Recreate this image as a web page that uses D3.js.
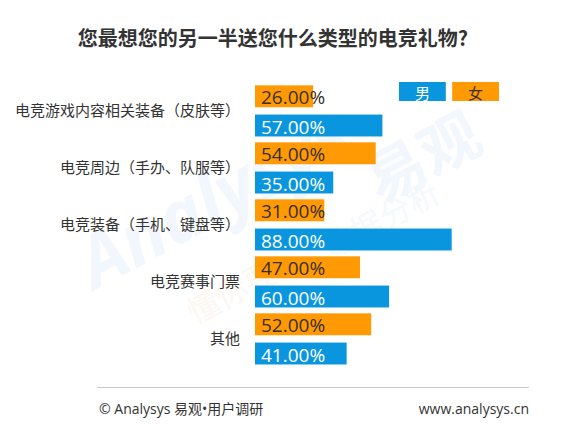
<!DOCTYPE html>
<html>
<head>
<meta charset="utf-8">
<script src="https://cdn.jsdelivr.net/npm/d3@7/dist/d3.min.js"></script>
<style>
  html, body { margin: 0; padding: 0; background: #fff; }
  svg { display: block; }
</style>
</head>
<body>
<div id="chart"></div>
<script>
const title = "您最想您的另一半送您什么类型的电竞礼物?";
const categories = ["电竞游戏内容相关装备（皮肤等）", "电竞周边（手办、队服等）", "电竞装备（手机、键盘等）", "电竞赛事门票", "其他"];
const seriesNames = ["男", "女"];
const maleValues = [57, 35, 88, 60, 41];
const femaleValues = [26, 54, 31, 47, 52];
const footerLeft = "© Analysys 易观•用户调研";
const footerRight = "www.analysys.cn";

const W = 571, H = 432;
const colors = { "男": "#0996DF", "女": "#FF9A05" };
const textColors = { "男": "#ffffff", "女": "#3a2f22" };
const font = "'Noto Sans CJK SC', 'Open Sans', sans-serif";
const numFont = "'Open Sans', 'Noto Sans CJK SC', sans-serif";

const svg = d3.select("#chart").append("svg").attr("width", W).attr("height", H);

// faint watermark
const wm = svg.append("g").attr("opacity", 0.3).style("pointer-events", "none");
wm.append("text").attr("transform", "translate(95,290) rotate(-28)")
  .attr("font-family", numFont).attr("font-style", "italic").attr("font-weight", 700)
  .attr("font-size", 72).attr("fill", "#d4e8f7").text("Analysys");
wm.append("text").attr("transform", "translate(380,205) rotate(-28)")
  .attr("font-family", font).attr("font-weight", 700)
  .attr("font-size", 60).attr("fill", "#d4e8f7").text("易观");
wm.append("text").attr("transform", "translate(330,260) rotate(-28)")
  .attr("font-family", font)
  .attr("font-size", 32).attr("fill", "#dcecf8").text("数据分析");
wm.append("text").attr("transform", "translate(195,325) rotate(-28)")
  .attr("font-family", font)
  .attr("font-size", 32).attr("fill", "#fbe6d6").text("懂你要");

// title
svg.append("text").attr("x", 273).attr("y", 37)
  .attr("text-anchor", "middle").attr("dominant-baseline", "central")
  .attr("font-family", font).attr("font-weight", 700).attr("font-size", 20)
  .attr("fill", "#333").text(title);

const x = d3.scaleLinear().domain([0, 100]).range([255, 255 + 223.5]);
const y0 = d3.scaleBand().domain(categories).range([82.4, 82.4 + 5 * 57]).padding(0);
const y1 = d3.scaleBand().domain(["女", "男"]).range([0, y0.bandwidth()])
  .paddingInner(0.25).paddingOuter(0.1);

const rows = categories.map((c, i) => ({
  cat: c,
  items: [{ s: "女", v: femaleValues[i] }, { s: "男", v: maleValues[i] }]
}));

// category labels
const yAxis = d3.axisLeft(y0).tickSize(0).tickPadding(0);
const ax = svg.append("g").attr("transform", "translate(240,0)").call(yAxis);
ax.select(".domain").remove();
ax.selectAll("text").attr("font-family", font).attr("font-size", 15)
  .attr("fill", "#333");

const g = svg.append("g");
const grp = g.selectAll("g.cat").data(rows).join("g")
  .attr("class", "cat")
  .attr("transform", d => `translate(0,${y0(d.cat)})`);

grp.selectAll("rect").data(d => d.items).join("rect")
  .attr("x", x(0))
  .attr("y", d => y1(d.s))
  .attr("width", d => x(d.v) - x(0))
  .attr("height", y1.bandwidth())
  .attr("fill", d => colors[d.s]);

grp.selectAll("text.val").data(d => d.items).join("text")
  .attr("class", "val")
  .attr("x", x(0) + 6)
  .attr("y", d => y1(d.s) + y1.bandwidth() / 2 + 1)
  .attr("dominant-baseline", "central")
  .attr("font-family", numFont).attr("font-size", 19)
  .attr("fill", d => textColors[d.s])
  .text(d => d3.format(".2f")(d.v) + "%");

// legend
const legX = d3.scaleBand().domain(seriesNames).range([399, 499]).paddingInner(0.12);
const leg = svg.append("g").selectAll("g").data(seriesNames).join("g")
  .attr("transform", d => `translate(${legX(d)},82)`);
leg.append("rect").attr("width", legX.bandwidth()).attr("height", 19)
  .attr("fill", d => colors[d]);
leg.append("text").attr("x", legX.bandwidth() / 2).attr("y", 10)
  .attr("text-anchor", "middle").attr("dominant-baseline", "central")
  .attr("font-family", font).attr("font-size", 15)
  .attr("fill", d => textColors[d]).text(d => d);

// footer
svg.append("line").attr("x1", 97).attr("x2", 529).attr("y1", 387.5).attr("y2", 387.5)
  .attr("stroke", "#c8c8c8").attr("stroke-width", 1);
svg.append("text").attr("x", 99).attr("y", 408).attr("dominant-baseline", "central")
  .attr("font-family", numFont).attr("font-size", 14).attr("fill", "#333").text(footerLeft);
svg.append("text").attr("x", 529).attr("y", 408).attr("text-anchor", "end")
  .attr("dominant-baseline", "central")
  .attr("font-family", numFont).attr("font-size", 14).attr("fill", "#333").text(footerRight);
</script>
</body>
</html>
